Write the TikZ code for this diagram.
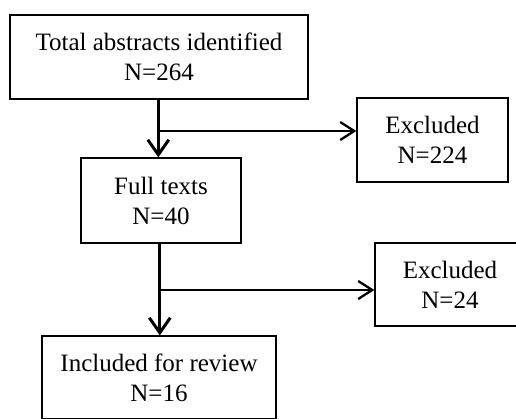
\documentclass[tikz,border=0pt]{standalone}
\usepackage{fontspec}
\setmainfont{Liberation Serif}
\usetikzlibrary{arrows.meta,positioning}

\begin{document}
\begin{tikzpicture}[x=1pt, y=-1pt,
  box/.style={draw, line width=1.3pt, align=center, inner sep=0pt,
    font=\fontsize{25}{30}\selectfont},
  flow/.style={-{Straight Barb[length=15pt,width=21pt]}, line width=3pt},
  side/.style={-{Straight Barb[length=14pt,width=18pt]}, line width=2.3pt}]

  \useasboundingbox (0,0) rectangle (516,418);

  % =========================================================
  % Main column
  % =========================================================
  \node[box, minimum width=298pt, minimum height=84pt] (total) at (159,57)
    {Total abstracts identified\\N=264};
  \node[box, minimum width=160pt, minimum height=85pt] (full) at (161,200.5)
    {Full texts\\N=40};
  \node[box, minimum width=234pt, minimum height=83pt] (incl) at (159,377.5)
    {Included for review\\N=16};

  % =========================================================
  % Exclusions
  % =========================================================
  \node[box, minimum width=151pt, minimum height=84pt] (excla) at (432.5,140)
    {Excluded\\N=224};
  \node[box, minimum width=150pt, minimum height=83pt] (exclb) at (450,284.5)
    {Excluded\\N=24};

  % Split points
  \coordinate (splita) at (158.3,131);
  \coordinate (splitb) at (159.8,290);

  % Arrows
  \draw[flow] (splita |- total.south) -- (splita |- full.north);
  \draw[side] (splita) -- (splita -| excla.west);
  \draw[flow] (splitb |- full.south) -- (splitb |- incl.north);
  \draw[side] (splitb) -- (splitb -| exclb.west);

\end{tikzpicture}
\end{document}
